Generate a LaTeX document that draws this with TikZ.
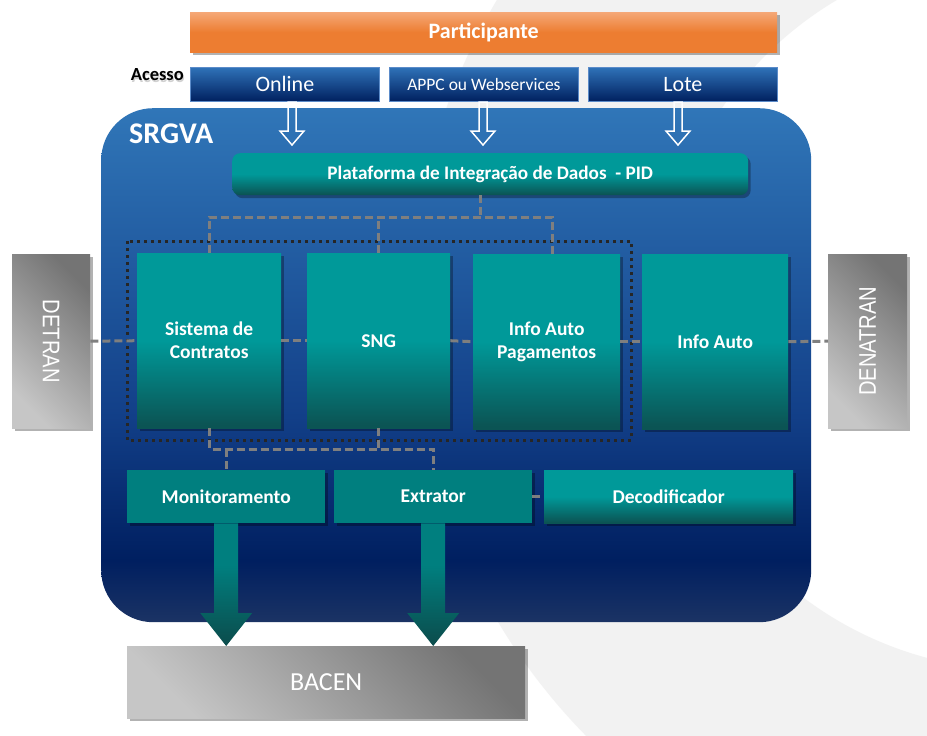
\documentclass[tikz,border=0pt]{standalone}
\usepackage{fontspec}
\setmainfont{Carlito}
\newfontfamily\narrowfont[FakeStretch=0.84]{Liberation Sans}
\usetikzlibrary{shadows,calc}
\definecolor{bgGray}{HTML}{F2F2F2}
\definecolor{orTop}{HTML}{F5A877}
\definecolor{orBot}{HTML}{ED7D31}
\definecolor{blTop}{HTML}{2F72B8}
\definecolor{blBot}{HTML}{00205F}
\definecolor{blEdge}{HTML}{5B8BC9}
\definecolor{sgT}{HTML}{3076B8}
\definecolor{sgM}{HTML}{123F88}
\definecolor{sgD}{HTML}{001F60}
\definecolor{sgB}{HTML}{1B3364}
\definecolor{tT}{HTML}{009999}
\definecolor{tD}{HTML}{0B5454}
\definecolor{tFlat}{HTML}{007F7F}
\definecolor{aD}{HTML}{0B4D4D}
\definecolor{grDark}{HTML}{747474}
\definecolor{grLight}{HTML}{C6C6C6}
\definecolor{connGray}{HTML}{7F7F7F}
\definecolor{dotDark}{HTML}{262626}
\pgfdeclareverticalshading{srgvashade}{100bp}{color(0bp)=(sgB); color(25bp)=(sgB); color(31bp)=(sgD); color(45bp)=(sgM); color(75bp)=(sgT); color(100bp)=(sgT)}
\pgfdeclareverticalshading{tealshade}{100bp}{color(0bp)=(tD); color(26bp)=(tD); color(50bp)=(tT); color(75bp)=(tT); color(100bp)=(tT)}
\pgfdeclareverticalshading{arrowshade}{100bp}{color(0bp)=(aD); color(26bp)=(aD); color(58bp)=(tFlat); color(100bp)=(tFlat)}
\pgfdeclareverticalshading{orangeshade}{100bp}{color(0bp)=(orBot); color(50bp)=(orBot); color(75bp)=(orTop); color(100bp)=(orTop)}
\tikzset{
  shadowed/.style={drop shadow={shadow xshift=2.5pt, shadow yshift=-3pt, opacity=0.3, fill=black}},
  box/.style={inner sep=0pt, align=center, text=white, anchor=north west,
    font=\bfseries\fontsize{19.5}{23}\selectfont},
  tealbox/.style={box, shading=tealshade, shadowed},
  flatbox/.style={box, fill=tFlat, shadowed},
  accbox/.style={box, top color=blTop, bottom color=blBot, draw=blEdge, line width=0.8pt,
    font=\fontsize{22}{24}\selectfont},
  graybox/.style={inner sep=0pt, anchor=north west, shading=axis, top color=grDark,
    bottom color=grLight, shading angle=-45, shadowed},
  sidelabel/.style={text=white, font=\narrowfont\fontsize{24}{24}\selectfont},
  conn/.style={draw=connGray, line width=3pt, dash pattern=on 8pt off 4pt},
  groupframe/.style={draw=dotDark, line width=3pt, dash pattern=on 3pt off 4pt},
  hollowarrow/.style={draw=white, line width=1.5pt, line join=miter},
  bigarrow/.style={shading=arrowshade}
}
\begin{document}
\begin{tikzpicture}[x=1pt,y=-1pt]
\useasboundingbox (0,0) rectangle (927,736);
% background
\fill[white] (0,0) rectangle (927,736);
\begin{scope}
  \clip (0,0) rectangle (927,736);
  \fill[bgGray, even odd rule] (1020,310) circle[radius=608pt] (1020,310) circle[radius=360pt];
\end{scope}

% top bars
\node[box, shading=orangeshade, shadowed, minimum width=587, minimum height=40,
  font=\bfseries\fontsize{22}{24}\selectfont] (part) at (190,12) {Participante};
\node[font=\bfseries\fontsize{18.5}{20}\selectfont, text=black, anchor=east, inner sep=0pt, opacity=0.18] at (185,76.5) {Acesso};
\node[font=\bfseries\fontsize{18.5}{20}\selectfont, anchor=east, inner sep=0pt] (acc) at (184,75) {Acesso};
\node[accbox, minimum width=189, minimum height=34] (onl) at (190,67) {Online};
\node[accbox, minimum width=189, minimum height=34, font=\fontsize{17.5}{20}\selectfont] (appc) at (389,67) {APPC ou Webservices};
\node[accbox, minimum width=189, minimum height=34] (lote) at (588,67) {Lote};

% SRGVA container
\node[inner sep=0pt, anchor=north west, shading=srgvashade, rounded corners=52pt,
  minimum width=710, minimum height=514] (srgva) at (101,108) {};
\node[anchor=west, inner sep=0pt, text=white, font=\bfseries\fontsize{30}{32}\selectfont] (srgvalbl) at (129,134) {SRGVA};

% hollow arrows from access boxes
\foreach \ax in {292,483,678}{
  \draw[hollowarrow] (\ax-4,102) -- (\ax-4,131) -- (\ax-12,131) -- (\ax,145) -- (\ax+12,131) -- (\ax+4,131) -- (\ax+4,102) -- cycle;
}

% PID
\node[tealbox, rounded corners=8pt, minimum width=516, minimum height=42,
  font=\bfseries\fontsize{19.2}{22}\selectfont] (pid) at (232,153) {Plataforma de Integração de Dados\ \ - PID};

% main blocks
\node[tealbox, minimum width=144, minimum height=175] (sc) at (137,253) {Sistema de\\Contratos};
\node[tealbox, minimum width=143, minimum height=175] (sng) at (307,253) {SNG};
\node[tealbox, minimum width=147, minimum height=175] (iap) at (473,254) {Info Auto\\Pagamentos};
\node[tealbox, minimum width=146, minimum height=175] (ia) at (642,254) {Info Auto};

% side boxes
\node[graybox, minimum width=78, minimum height=174,
  label={[sidelabel, rotate=-90]center:DETRAN}] (detran) at (12,254) {};
\node[graybox, minimum width=79, minimum height=174,
  label={[sidelabel, rotate=90]center:DENATRAN}] (denatran) at (828,254) {};

% lower blocks
\node[flatbox, minimum width=198, minimum height=53] (mon) at (127,470) {Monitoramento};
\node[flatbox, minimum width=198, minimum height=53] (ext) at (334,470) {Extrator};
\node[tealbox, minimum width=249, minimum height=53] (dec) at (544,470) {Decodificador};

% BACEN
\node[graybox, minimum width=398, minimum height=72,
  label={[text=white, font=\fontsize{26}{28}\selectfont]center:BACEN}] (bacen) at (127,646) {};

% group frame
\draw[groupframe] (127,241) rectangle (631,440);

% dashed connectors
\coordinate (jt) at (480,217);
\coordinate (jb) at (0,449);
\draw[conn] (pid.south -| jt) -- (jt);
\draw[conn] (sc.north) -- (sc.north |- jt) -- ($(iap.north |- jt)+(6,0)$) -- ($(iap.north)+(6,0)$);
\draw[conn] (sng.north) -- (sng.north |- jt);
\draw[conn] (detran.east) -- (sc.west);
\draw[conn] (sc.east) -- (sng.west);
\draw[conn] (sng.east) -- (iap.west);
\draw[conn] (iap.east) -- (ia.west);
\draw[conn] (ia.east) -- (denatran.west);
\draw[conn] (sc.south) -- (sc.south |- jb) -- (ext.north |- jb) -- (ext.north);
\draw[conn] (sng.south) -- (sng.south |- jb);
\draw[conn] (mon.north |- jb) -- (mon.north);
\draw[conn] (ext.east) -- (dec.west);

% big arrows to BACEN
\foreach \src in {mon,ext}{
  \shade[bigarrow] ($(\src.south)+(-12,0)$) -- ($(\src.south |- bacen.north)+(-12,-33)$)
    -- ($(\src.south |- bacen.north)+(-26,-33)$) -- (\src.south |- bacen.north)
    -- ($(\src.south |- bacen.north)+(26,-33)$) -- ($(\src.south |- bacen.north)+(12,-33)$)
    -- ($(\src.south)+(12,0)$) -- cycle;
}
\end{tikzpicture}
\end{document}
